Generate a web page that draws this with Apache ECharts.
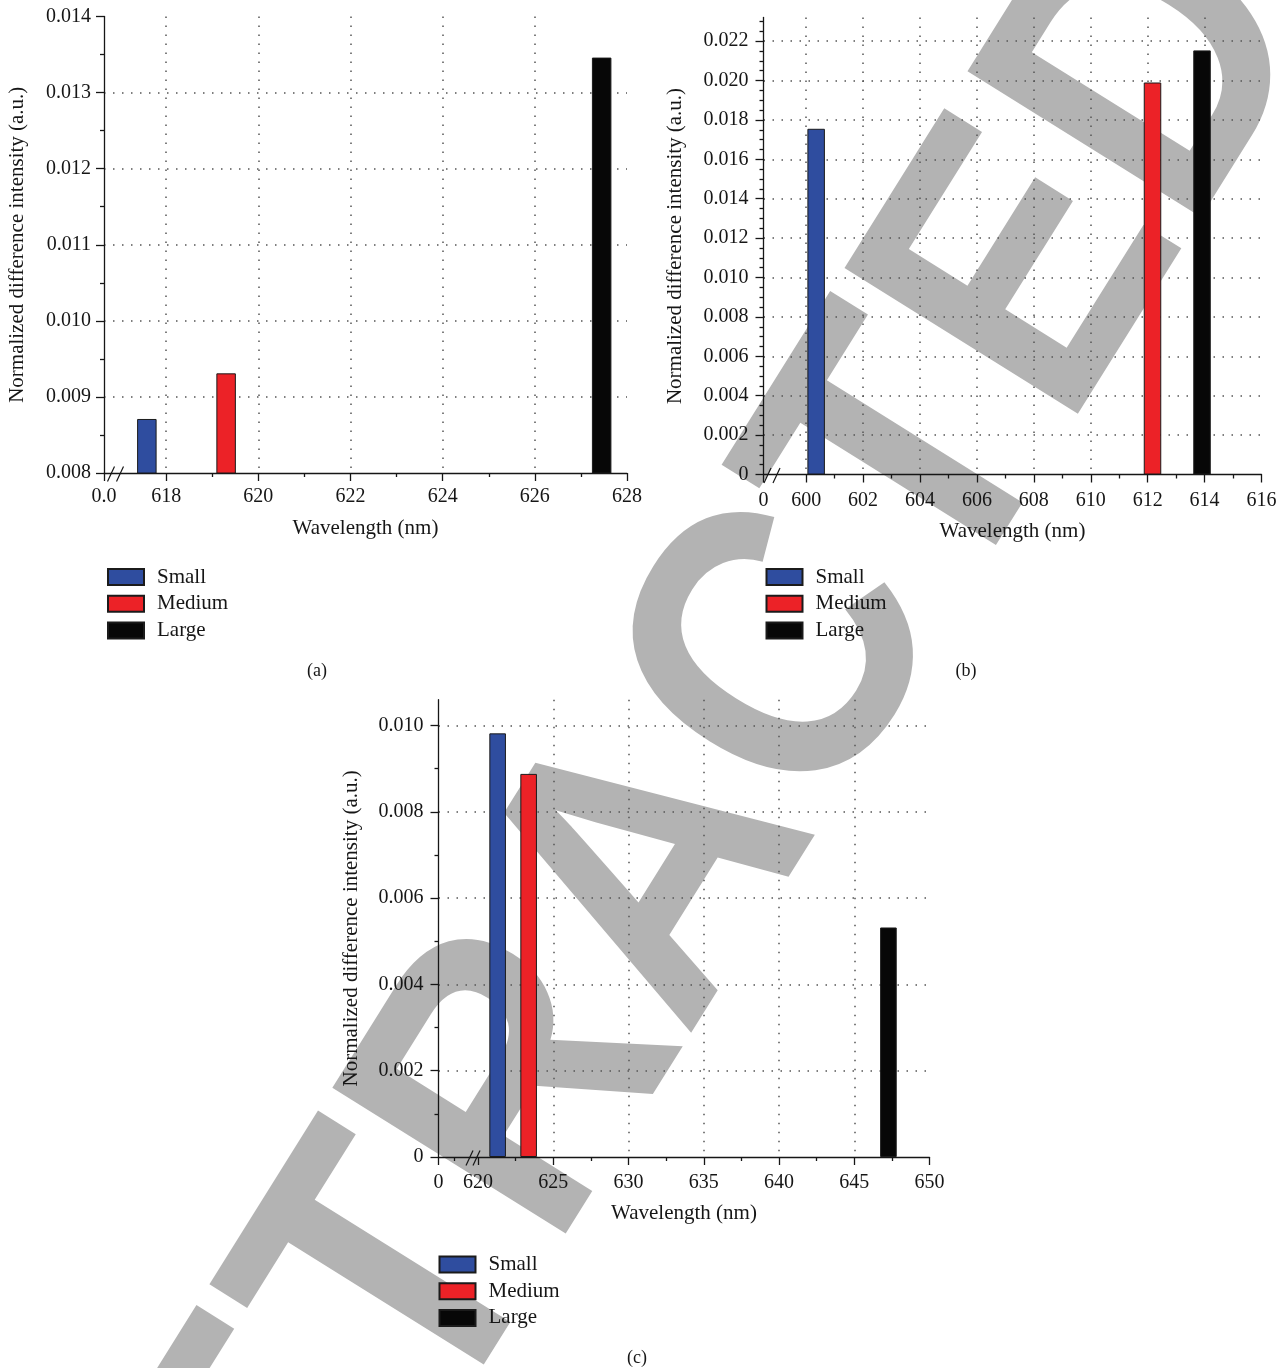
<!DOCTYPE html>
<html><head><meta charset="utf-8">
<script src="https://cdn.jsdelivr.net/npm/echarts@6/dist/echarts.min.js"></script>
<style>html,body{margin:0;padding:0;background:#fff}#c{width:1288px;height:1368px}</style>
</head><body><div id="c"></div>
<script>
// ---------- data ----------
const seriesNames = ['Small', 'Medium', 'Large'];
const seriesColors = ['#2f4d9f', '#ec2227', '#070707'];

// Panel (a)
const aWavelength = [617.58, 619.30, 627.45];
const aValues = [0.00871, 0.00931, 0.01346];
const aXTicks = [616.65, 618, 620, 622, 624, 626, 628];
const aXLabels = ['0.0', '618', '620', '622', '624', '626', '628'];
const aXMinor = [619, 621, 623, 625, 627];
const aXGrid = [618, 620, 622, 624, 626];
const aYTicks = [0.008, 0.009, 0.010, 0.011, 0.012, 0.013, 0.014];
const aYLabels = ['0.008', '0.009', '0.010', '0.011', '0.012', '0.013', '0.014'];
const aYMinor = [0.0085, 0.0095, 0.0105, 0.0115, 0.0125, 0.0135];
const aYGrid = [0.009, 0.010, 0.011, 0.012, 0.013];

// Panel (b)
const bWavelength = [600.35, 612.17, 613.91];
const bValues = [0.01755, 0.0199, 0.02153];
const bXTicks = [598.5, 600, 602, 604, 606, 608, 610, 612, 614, 616];
const bXLabels = ['0', '600', '602', '604', '606', '608', '610', '612', '614', '616'];
const bXMinor = [601, 603, 605, 607, 609, 611, 613, 615];
const bXGrid = [600, 602, 604, 606, 608, 610, 612, 614];
const bYTicks = [0, 0.002, 0.004, 0.006, 0.008, 0.010, 0.012, 0.014, 0.016, 0.018, 0.020, 0.022];
const bYLabels = ['0', '0.002', '0.004', '0.006', '0.008', '0.010', '0.012', '0.014', '0.016', '0.018', '0.020', '0.022'];
const bYMinor = [0.0005, 0.001, 0.0015, 0.0025, 0.003, 0.0035, 0.0045, 0.005, 0.0055, 0.0065, 0.007, 0.0075,
  0.0085, 0.009, 0.0095, 0.0105, 0.011, 0.0115, 0.0125, 0.013, 0.0135, 0.0145, 0.015, 0.0155,
  0.0165, 0.017, 0.0175, 0.0185, 0.019, 0.0195, 0.0205, 0.021, 0.0215, 0.0225, 0.023];
const bYGrid = [0.002, 0.004, 0.006, 0.008, 0.010, 0.012, 0.014, 0.016, 0.018, 0.020, 0.022];

// Panel (c)
const cWavelength = [621.30, 623.36, 647.27];
const cValues = [0.00982, 0.00888, 0.00532];
const cXTicks = [617.37, 620, 625, 630, 635, 640, 645, 650];
const cXLabels = ['0', '620', '625', '630', '635', '640', '645', '650'];
const cXMinor = [618.42, 622.5, 627.5, 632.5, 637.5, 642.5, 647.5];
const cXGrid = [625, 630, 635, 640, 645];
const cYTicks = [0, 0.002, 0.004, 0.006, 0.008, 0.010];
const cYLabels = ['0', '0.002', '0.004', '0.006', '0.008', '0.010'];
const cYMinor = [0.001, 0.003, 0.005, 0.007, 0.009];
const cYGrid = [0.002, 0.004, 0.006, 0.008, 0.010];

const xName = 'Wavelength (nm)';
const yName = 'Normalized difference intensity (a.u.)';
const captions = ['(a)', '(b)', '(c)'];
const watermark = 'RETRACTED';

// ---------- layout ----------
const FONT = '"Liberation Serif", "DejaVu Serif", serif';
const INK = '#161616';
const panels = [
  { grid: { left: 104, top: 16.5, width: 523, height: 456.5 }, xMin: 616.65, xMax: 628, yMin: 0.008, yMax: 0.014,
    wl: aWavelength, vals: aValues, xT: aXTicks, xL: aXLabels, xM: aXMinor, xG: aXGrid, yT: aYTicks, yL: aYLabels, yM: aYMinor, yG: aYGrid,
    barWidth: 19.5, xNameGap: 45, yNameGap: 76, xMargin: 14, yMargin: 13, brk: [7, 16],
    legend: { left: 107, top: 566.5 }, caption: [317, 671] },
  { grid: { left: 763.5, top: 17.5, width: 498, height: 457 }, xMin: 598.5, xMax: 616, yMin: 0, yMax: 0.0232,
    wl: bWavelength, vals: bValues, xT: bXTicks, xL: bXLabels, xM: bXMinor, xG: bXGrid, yT: bYTicks, yL: bYLabels, yM: bYMinor, yG: bYGrid,
    barWidth: 17.5, xNameGap: 46, yNameGap: 78, xMargin: 16, yMargin: 15, brk: [4, 13],
    legend: { left: 765.5, top: 566.5 }, caption: [966, 671] },
  { grid: { left: 438.5, top: 699.7, width: 491, height: 457.3 }, xMin: 617.37, xMax: 650, yMin: 0, yMax: 0.0106,
    wl: cWavelength, vals: cValues, xT: cXTicks, xL: cXLabels, xM: cXMinor, xG: cXGrid, yT: cYTicks, yL: cYLabels, yM: cYMinor, yG: cYGrid,
    barWidth: 16.6, xNameGap: 46, yNameGap: 77, xMargin: 16, yMargin: 15, brk: [31, 38],
    legend: { left: 438.5, top: 1254 }, caption: [637, 1358] }
];

function lookup(ticks, labels) {
  return function (v) {
    for (let k = 0; k < ticks.length; k++) if (Math.abs(ticks[k] - v) < 1e-7) return labels[k];
    return '';
  };
}

const dotted = { color: '#555555', width: 1.5, type: [1.5, 7.5] };
const axisInk = { color: INK, width: 1.3 };

const grids = [], xAxes = [], yAxes = [], series = [], legends = [];
panels.forEach((p, i) => {
  grids.push(Object.assign({ containLabel: false }, p.grid));
  xAxes.push({ type: 'value', gridIndex: i, min: p.xMin, max: p.xMax, position: 'bottom',
    axisLine: { show: true, onZero: false, lineStyle: axisInk },
    axisTick: { show: true, customValues: p.xT, length: 8, lineStyle: axisInk },
    axisLabel: { show: true, customValues: p.xT, formatter: lookup(p.xT, p.xL), margin: p.xMargin,
      fontFamily: FONT, fontSize: 20, color: INK },
    splitLine: { show: false },
    name: xName, nameLocation: 'middle', nameGap: p.xNameGap,
    nameTextStyle: { fontFamily: FONT, fontSize: 21, color: INK } });
  xAxes.push({ type: 'value', gridIndex: i, min: p.xMin, max: p.xMax, position: 'bottom',
    axisLine: { show: false, onZero: false }, axisLabel: { show: false },
    axisTick: { show: true, customValues: p.xM, length: 4, lineStyle: axisInk },
    splitLine: { show: false } });
  xAxes.push({ type: 'value', gridIndex: i, min: p.xMin, max: p.xMax, position: 'bottom',
    axisLine: { show: false, onZero: false }, axisLabel: { show: false },
    axisTick: { show: false, customValues: p.xG },
    splitLine: { show: true, showMinLine: true, showMaxLine: true, lineStyle: dotted } });
  yAxes.push({ type: 'value', gridIndex: i, min: p.yMin, max: p.yMax, position: 'left',
    axisLine: { show: true, onZero: false, lineStyle: axisInk },
    axisTick: { show: true, customValues: p.yT, length: 8, lineStyle: axisInk },
    axisLabel: { show: true, customValues: p.yT, formatter: lookup(p.yT, p.yL), margin: p.yMargin,
      fontFamily: FONT, fontSize: 20, color: INK },
    splitLine: { show: false },
    name: yName, nameLocation: 'middle', nameGap: p.yNameGap,
    nameTextStyle: { fontFamily: FONT, fontSize: 21, color: INK } });
  yAxes.push({ type: 'value', gridIndex: i, min: p.yMin, max: p.yMax, position: 'left',
    axisLine: { show: false, onZero: false }, axisLabel: { show: false },
    axisTick: { show: true, customValues: p.yM, length: 4, lineStyle: axisInk },
    splitLine: { show: false } });
  yAxes.push({ type: 'value', gridIndex: i, min: p.yMin, max: p.yMax, position: 'left',
    axisLine: { show: false, onZero: false }, axisLabel: { show: false },
    axisTick: { show: false, customValues: p.yG },
    splitLine: { show: true, showMinLine: true, showMaxLine: true, lineStyle: dotted } });

  seriesNames.forEach((name, k) => {
    series.push({ type: 'bar', name: name, xAxisIndex: 3 * i, yAxisIndex: 3 * i,
      data: [[p.wl[k], p.vals[k]]], barWidth: p.barWidth, barGap: '-100%',
      itemStyle: { color: seriesColors[k], borderColor: '#1b1b1b', borderWidth: 1 },
      z: 5 });
  });

  legends.push({ data: seriesNames, orient: 'vertical', left: p.legend.left, top: p.legend.top,
    itemWidth: 36, itemHeight: 16, itemGap: 5.7, icon: 'rect', selectedMode: false,
    padding: 0,
    textStyle: { fontFamily: FONT, fontSize: 21, color: INK, padding: [2, 0, 0, 8] } });
});

// watermark: baseline runs up-right at 58 degrees
const WM_SIZE = 400, WM_ANGLE = 58 * Math.PI / 180;
const graphics = [{
  type: 'text', z: -100, x: 91, y: 1785, rotation: WM_ANGLE, scaleX: 0.87, scaleY: 1, silent: true,
  style: { text: watermark, fill: '#b3b3b3', font: 'bold ' + WM_SIZE + 'px "Liberation Sans", Arial, sans-serif',
    textAlign: 'left', textVerticalAlign: 'middle' }
}];
panels.forEach((p, i) => {
  graphics.push({ type: 'text', x: p.caption[0], y: p.caption[1],
    style: { text: captions[i], fill: INK, font: '18px ' + FONT, textAlign: 'center', textVerticalAlign: 'middle' } });
});

const chart = echarts.init(document.getElementById('c'), null, { renderer: 'canvas' });
chart.setOption({
  animation: false,
  backgroundColor: '#ffffff',
  grid: grids, xAxis: xAxes, yAxis: yAxes, series: series, legend: legends,
  graphic: graphics
});

// axis-break marks "//" near each x-axis origin
const brkEls = [];
panels.forEach((p, i) => {
  const o = chart.convertToPixel({ xAxisIndex: 3 * i, yAxisIndex: 3 * i }, [p.xMin, p.yMin]);
  p.brk.forEach(dx => {
    brkEls.push({ type: 'line', silent: true, z: 20,
      shape: { x1: o[0] + dx - 3.5, y1: o[1] + 8.5, x2: o[0] + dx + 3.5, y2: o[1] - 6.5 },
      style: { stroke: INK, lineWidth: 1.2 } });
  });
});
chart.setOption({ graphic: graphics.concat(brkEls) });
</script>
</body></html>
